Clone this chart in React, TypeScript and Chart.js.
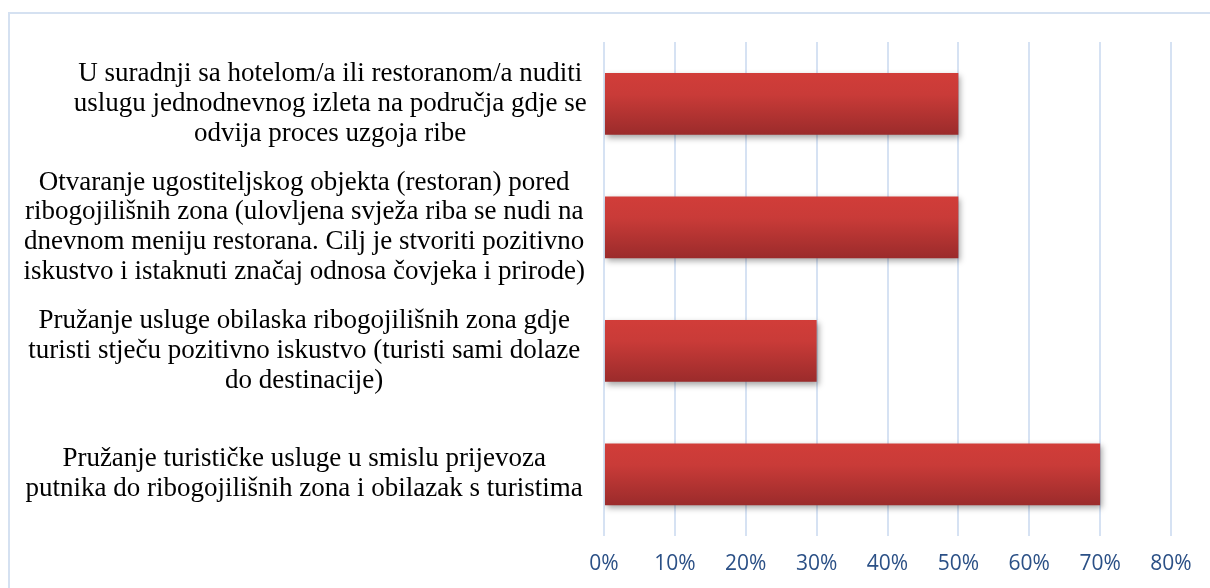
import React, { useEffect, useRef } from "react";
import { Chart, registerables } from "chart.js";

Chart.register(...registerables);

const categories: string[][] = [
  [
    "U suradnji sa hotelom/a ili restoranom/a nuditi",
    "uslugu jednodnevnog izleta na područja gdje se",
    "odvija proces uzgoja ribe",
  ],
  [
    "Otvaranje ugostiteljskog objekta (restoran) pored",
    "ribogojilišnih zona (ulovljena svježa riba se nudi na",
    "dnevnom meniju restorana. Cilj je stvoriti pozitivno",
    "iskustvo i istaknuti značaj odnosa čovjeka i prirode)",
  ],
  [
    "Pružanje usluge obilaska ribogojilišnih zona gdje",
    "turisti stječu pozitivno iskustvo (turisti sami dolaze",
    "do destinacije)",
  ],
  [
    "Pružanje turističke usluge u smislu prijevoza",
    "putnika do ribogojilišnih zona i obilazak s turistima",
  ],
];

const values: number[] = [50, 50, 30, 70];

const axisMin = 0;
const axisMax = 80;
const axisStep = 10;

const shadowPlugin = {
  id: "barShadow",
  beforeDatasetsDraw(chart: any) {
    const ctx = chart.ctx;
    ctx.save();
    ctx.shadowColor = "rgba(0,0,0,0.35)";
    ctx.shadowBlur = 6;
    ctx.shadowOffsetX = 2;
    ctx.shadowOffsetY = 3;
  },
  afterDatasetsDraw(chart: any) {
    chart.ctx.restore();
  },
};

// first category label is centred a little further right in the original layout
const labelShiftPlugin = {
  id: "labelShift",
  beforeDraw(chart: any) {
    const ys = chart.scales.y;
    if (!ys) return;
    const items = ys.getLabelItems();
    if (items && items[0] && !items[0].__shifted) {
      items[0].options.translation[0] += 26;
      items[0].__shifted = true;
    }
  },
};

export default function App() {
  const canvasRef = useRef<HTMLCanvasElement | null>(null);

  useEffect(() => {
    const canvas = canvasRef.current;
    if (!canvas) return;
    const chart = new Chart(canvas, {
      type: "bar",
      data: {
        labels: categories as any,
        datasets: [
          {
            data: values,
            barPercentage: 0.5,
            categoryPercentage: 1,
            borderWidth: 0,
            backgroundColor: (c: any) => {
              const ch = c.chart;
              const ys = ch.scales && ch.scales.y;
              if (!ys || !ch.chartArea) return "#c0392b";
              const center = ys.getPixelForValue(c.dataIndex);
              const half = (ys.height / categories.length) * 0.5 * 0.5;
              const g = ch.ctx.createLinearGradient(0, center - half, 0, center + half);
              g.addColorStop(0, "#d13d39");
              g.addColorStop(0.35, "#c93b38");
              g.addColorStop(1, "#9b2b2b");
              return g;
            },
          },
        ],
      },
      options: {
        indexAxis: "y",
        animation: false,
        responsive: false,
        maintainAspectRatio: false,
        layout: { padding: { top: 42, right: 39, bottom: 0, left: 0 } },
        plugins: {
          legend: { display: false },
          tooltip: { enabled: false },
        },
        scales: {
          x: {
            min: axisMin,
            max: axisMax,
            afterFit: (s: any) => {
              s.height = 52;
              s.paddingLeft = 0;
              s.paddingRight = 0;
            },
            ticks: {
              stepSize: axisStep,
              padding: 15,
              maxRotation: 0,
              color: "#2b5086",
              font: { family: "'Open Sans'", size: 21 },
              callback: (v: any) => v + "%",
            },
            grid: {
              color: "#d6e2f3",
              lineWidth: 2,
              drawTicks: false,
            },
            border: { display: false },
          },
          y: {
            afterFit: (s: any) => {
              s.width = 604;
              s.paddingTop = 0;
              s.paddingBottom = 0;
            },
            ticks: {
              autoSkip: false,
              crossAlign: "center",
              padding: 19,
              color: "#000000",
              font: { family: "'Liberation Serif'", size: 27, lineHeight: 1.1 },
            },
            grid: { display: false, drawTicks: false },
            border: { display: false },
          },
        },
      },
      plugins: [shadowPlugin, labelShiftPlugin],
    });
    return () => chart.destroy();
  }, []);

  return (
    <div
      style={{
        position: "fixed",
        left: 0,
        top: 0,
        width: 1210,
        height: 588,
        overflow: "hidden",
        background: "#ffffff",
      }}
    >
      <div
        style={{
          position: "absolute",
          left: 8,
          top: 12,
          width: 1400,
          height: 800,
          border: "2px solid #d5e1f1",
          boxSizing: "border-box",
        }}
      />
      <canvas
        ref={canvasRef}
        width={1210}
        height={588}
        style={{ position: "absolute", left: 0, top: 0, width: 1210, height: 588 }}
      />
    </div>
  );
}
